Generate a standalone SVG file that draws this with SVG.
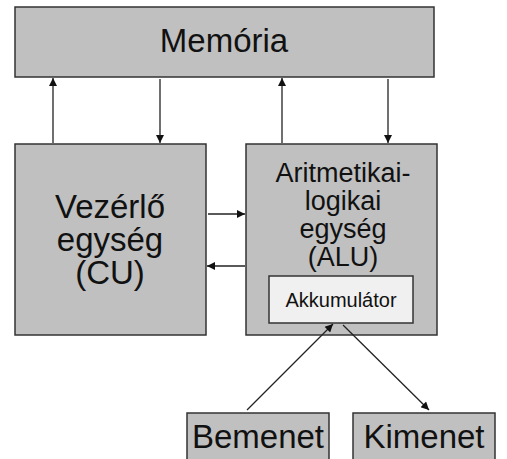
<svg xmlns="http://www.w3.org/2000/svg" width="507" height="459" viewBox="0 0 507 459">
<style>
.box{fill:#c0c0c0;stroke:#333;stroke-width:1.5}
.acc{fill:#f0f0f0;stroke:#333;stroke-width:1.5}
.t{font-family:"Liberation Sans",Arial,sans-serif;fill:#111;text-anchor:middle}
.c{stroke:#222;stroke-width:1.3;fill:none;marker-end:url(#ah)}
</style>
<defs>
<marker id="ah" viewBox="0 0 10 10" refX="10" refY="5" markerWidth="9" markerHeight="8" markerUnits="userSpaceOnUse" orient="auto">
<path d="M0,0 L10,5 L0,10 z" fill="#111"/>
</marker>
</defs>
<rect width="507" height="459" fill="#fff"/>
<g id="memoria">
<rect class="box" x="15" y="7" width="419" height="70"/>
<text class="t" x="224" y="52" font-size="33">Memória</text>
</g>
<g id="cu">
<rect class="box" x="15" y="144" width="191" height="191"/>
<text class="t" x="110" y="218" font-size="33">Vezérlő</text>
<text class="t" x="110" y="251" font-size="33">egység</text>
<text class="t" x="110" y="284" font-size="33">(CU)</text>
</g>
<g id="alu">
<rect class="box" x="246" y="144" width="191" height="191"/>
<text class="t" x="343" y="182" font-size="27">Aritmetikai-</text>
<text class="t" x="343" y="210" font-size="27">logikai</text>
<text class="t" x="343" y="238" font-size="27">egység</text>
<text class="t" x="343" y="266" font-size="27">(ALU)</text>
</g>
<g id="akkumulator">
<rect class="acc" x="269" y="276" width="144" height="47"/>
<text class="t" x="341" y="307" font-size="20">Akkumulátor</text>
</g>
<g id="bemenet">
<rect class="box" x="187" y="413" width="142" height="50"/>
<text class="t" x="258" y="448" font-size="33">Bemenet</text>
</g>
<g id="kimenet">
<rect class="box" x="353" y="413" width="142" height="50"/>
<text class="t" x="424" y="448" font-size="33">Kimenet</text>
</g>
<g id="connectors">
<line class="c" x1="53" y1="143" x2="53" y2="78"/>
<line class="c" x1="160" y1="79" x2="160" y2="143"/>
<line class="c" x1="282" y1="143" x2="282" y2="78"/>
<line class="c" x1="388" y1="79" x2="388" y2="143"/>
<line class="c" x1="208" y1="214" x2="245" y2="214"/>
<line class="c" x1="245" y1="266" x2="207" y2="266"/>
<line class="c" x1="247" y1="410" x2="333" y2="324"/>
<line class="c" x1="343" y1="325" x2="429" y2="410"/>
</g>
</svg>
